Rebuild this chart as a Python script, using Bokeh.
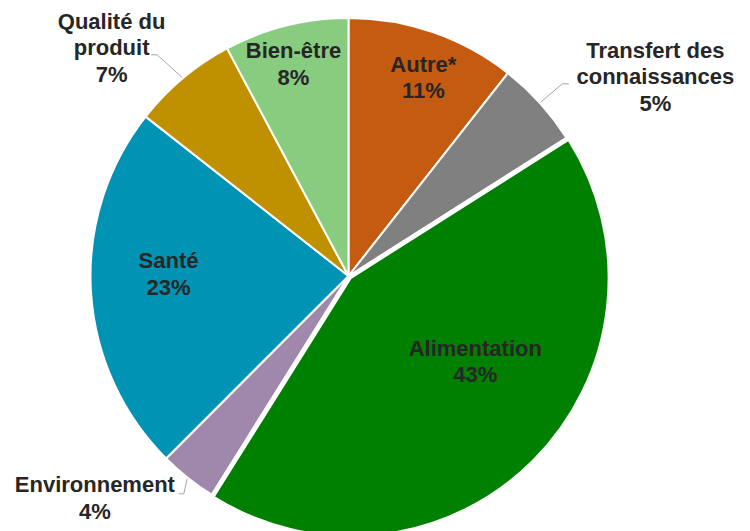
import math
from bokeh.plotting import figure
from bokeh.models import Range1d, ColumnDataSource
from bokeh.embed import file_html
from bokeh.resources import INLINE
from bokeh.core.properties import value

# ---- data ----
categories = ["Autre*", "Transfert des\nconnaissances", "Alimentation", "Environnement",
              "Santé", "Qualité du\nproduit", "Bien-être"]
shares = [10.6, 5.4, 42.9, 3.6, 23.1, 6.6, 7.8]
colors = ["#C55A11", "#808080", "#008000", "#A088AD", "#0093B4", "#BF9000", "#88CC80"]

# ---- layout (styles / positions, not data) ----
explode = [0, 0, 3, 0, 0, 0, 0]                 # px offset along slice bisector
label_dist = [212, 366, 153, 337, 180, 329, 219]  # px from pie centre
label_nudge = [1.6, 9.1, -10.8, 10.3, 4.0, -6.1, -0.5]  # deg from slice bisector
# leader lines: (elbow, end) relative to pie centre in px (screen x right, y up)
leaders = {
    1: ((213.7, 192.2), (220.3, 192.2)),
    3: ((-164.7, -217.8), (-169.7, -217.8)),
    5: ((-191.3, 221.2), (-197.3, 221.2)),
}

W, H = 750, 531
cx, cy, R = 348.0, 255.5, 258.0

p = figure(width=W, height=H, x_range=Range1d(0, W), y_range=Range1d(0, H),
           output_backend="svg", toolbar_location=None,
           x_axis_location=None, y_axis_location=None, min_border=0,
           outline_line_color=None, background_fill_color="white",
           border_fill_color="white")
p.grid.visible = False

total = sum(shares)
starts, ends, mids = [], [], []
cum = 0.0
for v in shares:
    a0 = cum / total * 360.0
    cum += v
    a1 = cum / total * 360.0
    starts.append(a0)
    ends.append(a1)
    mids.append((a0 + a1) / 2)

wx, wy = [], []
for e, m in zip(explode, mids):
    r = math.radians(m)
    wx.append(cx + e * math.sin(r))
    wy.append(cy + e * math.cos(r))

src = ColumnDataSource(dict(
    x=wx, y=wy,
    start=[math.radians(90 - a) for a in starts],
    end=[math.radians(90 - a) for a in ends],
    color=colors,
))
p.wedge(x="x", y="y", radius=R, start_angle="start", end_angle="end",
        direction="clock", fill_color="color", line_color="white",
        line_width=2, source=src)

# leader lines
lxs, lys = [], []
for i, (elbow, end) in leaders.items():
    r = math.radians(mids[i])
    sx = cx + (R + 1) * math.sin(r)
    sy = cy + (R + 1) * math.cos(r)
    lxs.append([sx, cx + elbow[0], cx + end[0]])
    lys.append([sy, cy + elbow[1], cy + end[1]])
p.multi_line(xs=lxs, ys=lys, line_color="#A6A6A6", line_width=1)

# labels
tx, ty, tt = [], [], []
for i, (c, v) in enumerate(zip(categories, shares)):
    a = math.radians(mids[i] + label_nudge[i])
    tx.append(cx + label_dist[i] * math.sin(a))
    ty.append(cy + label_dist[i] * math.cos(a))
    tt.append(f"{c}\n{round(v / total * 100)}%")
p.text(x=tx, y=ty, text=tt, text_font=value("Liberation Sans"),
       text_font_style="bold", text_font_size="22px", text_align="center",
       text_baseline="middle", text_color="#262626", text_line_height=1.06)

open("out.html", "w").write(file_html(p, INLINE))
